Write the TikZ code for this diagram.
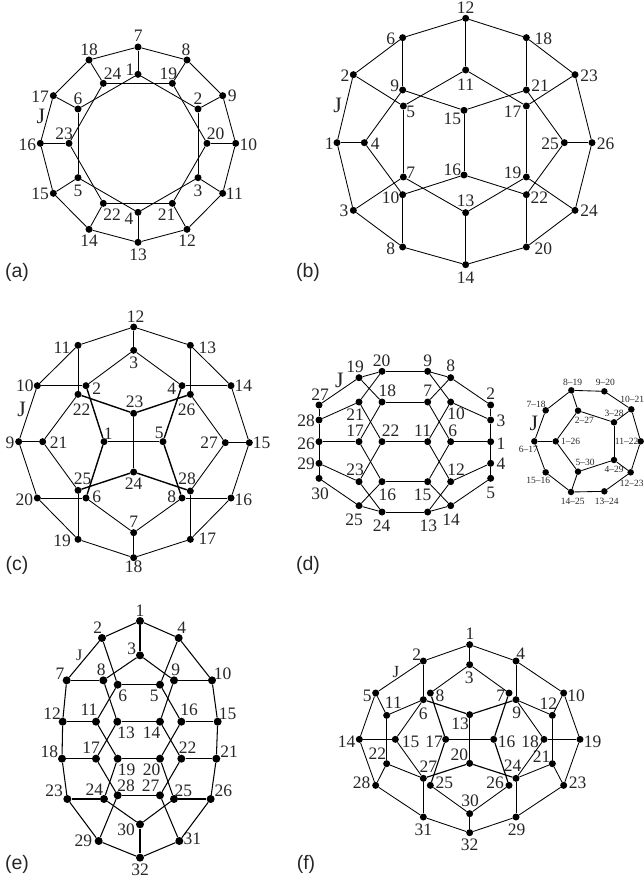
\documentclass[tikz,border=0pt]{standalone}
\usepackage{fontspec}
\setmainfont{Liberation Serif}
\newfontfamily\capfont{Liberation Sans}
\tikzset{
  vdot/.style={circle,fill=black,inner sep=0pt,minimum size=\dsize pt,draw=none},
  vlab/.style={inner sep=0pt,text=black!85,font=\lfont},
  vlink/.style={draw=black,line width=\lw pt},
  vheavy/.style={draw=black,line width=1.4pt},
  figcap/.style={inner sep=0pt,text=black!85,font=\capfont\fontsize{19.5}{20}\selectfont}
}
\def\lw{0.85}
\def\lfont{\fontsize{17.5}{18}\selectfont}
\def\dsize{7}
\newcommand{\pnl}[3]{\def\pn{#1}\def\ox{#2}\def\oy{#3}}
\newcommand{\Vx}[6]{%
  \node[vdot] (\pn#1) at ({\ox+#2/3},{-(\oy+#3/3)}) {};
  \node[vlab] (l\pn#1) at ({\ox+#5/3},{-(\oy+#6/3)}) {#4};}
\newcommand{\Ux}[3]{\Vx{#1}{#2}{#3}{#1}}
\newcommand{\Ex}[1]{\foreach \p/\q in {#1}{\draw[vlink] (\pn\p)--(\pn\q);}}
\newcommand{\Hx}[1]{\foreach \p/\q in {#1}{\draw[vheavy] (\pn\p)--(\pn\q);}}
\newcommand{\Jx}[3]{\node[vlab,font=\fontsize{#3}{#3}\selectfont] (j\pn) at ({\ox+#1/3},{-(\oy+#2/3)}) {J};}
\begin{document}
\begin{tikzpicture}[x=1pt,y=1pt]
\useasboundingbox (0,0) rectangle (643,-882);
% ---------- (a)
\pnl{a}{0}{0}
\Ux{7}{414}{141}{415}{108}
\Ux{1}{414}{223}{390}{210}
\Ux{18}{267}{180}{267}{150}
\Ux{8}{561}{180}{558}{150}
\Ux{24}{310}{250}{338}{222}
\Ux{19}{517}{250}{505}{222}
\Ux{17}{160}{287}{120}{290}
\Ux{9}{668}{287}{697}{287}
\Ux{6}{234}{327}{234}{297}
\Ux{2}{594}{327}{594}{295}
\Ux{16}{121}{430}{82}{433}
\Ux{23}{207}{430}{192}{402}
\Ux{20}{621}{430}{647}{402}
\Ux{10}{707}{430}{745}{433}
\Ux{5}{234}{533}{234}{572}
\Ux{3}{594}{533}{594}{572}
\Ux{15}{160}{580}{120}{582}
\Ux{11}{668}{580}{703}{582}
\Ux{22}{310}{610}{336}{645}
\Ux{21}{517}{610}{500}{645}
\Ux{14}{267}{688}{267}{722}
\Ux{12}{561}{688}{561}{722}
\Ux{4}{414}{637}{387}{655}
\Ux{13}{414}{727}{414}{765}
\Jx{123}{350}{22}
\Ex{7/8,8/9,9/10,10/11,11/12,12/13,13/14,14/15,15/16,16/17,17/18,18/7,
   7/1,8/19,9/2,10/20,11/3,12/21,13/4,14/22,15/5,16/23,17/6,18/24,
   1/2,2/3,3/4,4/5,5/6,6/1,19/20,20/21,21/22,22/23,23/24,24/19}
\node[figcap] (capa) at (17,-272) {(a)};
% ---------- (b)
\pnl{b}{290}{0}
\Ux{12}{527}{55}{527}{22}
\Ux{6}{338}{113}{302}{115}
\Ux{18}{709}{113}{760}{115}
\Ux{2}{190}{224}{165}{228}
\Ux{23}{855}{224}{897}{226}
\Ux{11}{527}{210}{527}{254}
\Ux{9}{338}{270}{314}{258}
\Ux{21}{709}{270}{750}{258}
\Ux{5}{340}{318}{362}{335}
\Ux{17}{709}{318}{668}{335}
\Ux{15}{522}{331}{487}{355}
\Ux{1}{141}{428}{118}{430}
\Ux{4}{223}{428}{256}{430}
\Ux{25}{823}{428}{780}{430}
\Ux{26}{906}{428}{947}{430}
\Ux{16}{522}{525}{487}{508}
\Ux{7}{340}{531}{362}{518}
\Ux{19}{709}{531}{668}{518}
\Ux{10}{338}{584}{302}{592}
\Ux{22}{709}{584}{748}{592}
\Ux{13}{527}{638}{527}{603}
\Ux{3}{190}{631}{162}{632}
\Ux{24}{855}{631}{897}{633}
\Ux{8}{338}{741}{302}{745}
\Ux{20}{709}{741}{760}{745}
\Ux{14}{527}{794}{527}{832}
\Jx{143}{316}{22}
\Ex{12/18,18/23,23/26,26/24,24/20,20/14,14/8,8/3,3/1,1/2,2/6,6/12,
   12/11,6/9,2/5,5/7,10/8,1/4,4/9,4/10,3/7,7/13,10/16,16/15,15/9,15/21,
   11/5,11/17,17/23,17/19,18/21,21/25,25/22,25/26,19/13,19/24,16/22,22/20,13/14}
\node[figcap] (capb) at (308,-272) {(b)};
% ---------- (c)
\pnl{c}{0}{300}
\Ux{12}{401}{81}{407}{50}
\Ux{3}{401}{151}{401}{187}
\Ux{11}{234}{136}{186}{143}
\Ux{13}{571}{136}{622}{143}
\Ux{10}{112}{257}{75}{258}
\Ux{2}{258}{257}{290}{265}
\Ux{4}{546}{257}{515}{265}
\Ux{14}{693}{257}{730}{258}
\Ux{22}{234}{283}{245}{330}
\Ux{26}{571}{283}{560}{330}
\Ux{23}{401}{340}{404}{305}
\Ux{9}{56}{425}{30}{428}
\Ux{21}{128}{425}{176}{428}
\Ux{1}{312}{425}{325}{400}
\Ux{5}{489}{425}{478}{400}
\Ux{27}{676}{428}{627}{428}
\Ux{15}{748}{428}{785}{428}
\Ux{24}{401}{516}{401}{552}
\Ux{25}{234}{571}{248}{537}
\Ux{28}{571}{573}{561}{537}
\Ux{20}{112}{594}{73}{600}
\Ux{6}{258}{594}{290}{590}
\Ux{8}{546}{594}{515}{590}
\Ux{16}{693}{594}{730}{600}
\Ux{7}{401}{698}{401}{665}
\Ux{19}{234}{718}{186}{722}
\Ux{17}{571}{718}{622}{716}
\Ux{18}{401}{773}{401}{800}
\Jx{65}{328}{22}
\Ex{12/13,13/14,14/15,15/16,16/17,17/18,18/19,19/20,20/9,9/10,10/11,11/12,
   12/3,3/2,3/4,10/2,14/4,11/22,13/26,22/21,26/27,21/9,27/15,21/25,27/28,
   1/5,23/24,25/19,28/17,20/6,8/16,6/7,8/7,7/18}
\Hx{22/23,26/23,2/1,4/5,1/6,5/8,24/25,24/28}
\node[figcap] (capc) at (17,-565) {(c)};
% ---------- (d)
\pnl{d}{295}{340}
\Ux{20}{261}{94}{260}{63}
\Ux{9}{398}{94}{398}{63}
\Ux{19}{192}{113}{180}{80}
\Ux{8}{467}{113}{467}{78}
\Ux{27}{72}{195}{75}{163}
\Ux{2}{587}{195}{587}{160}
\Ux{21}{192}{186}{180}{225}
\Ux{10}{467}{186}{483}{222}
\Ux{18}{261}{186}{277}{153}
\Ux{7}{398}{186}{398}{153}
\Ux{28}{72}{240}{33}{243}
\Ux{3}{587}{240}{618}{243}
\Ux{26}{72}{305}{33}{312}
\Ux{17}{192}{305}{180}{272}
\Ux{22}{261}{305}{287}{272}
\Ux{11}{398}{305}{383}{272}
\Ux{6}{467}{305}{473}{272}
\Ux{1}{587}{305}{618}{310}
\Ux{29}{72}{370}{33}{372}
\Ux{4}{587}{370}{618}{372}
\Ux{23}{192}{425}{180}{388}
\Ux{12}{467}{425}{483}{388}
\Ux{16}{261}{425}{277}{463}
\Ux{15}{398}{425}{383}{463}
\Ux{30}{72}{415}{75}{460}
\Ux{5}{587}{415}{587}{458}
\Ux{25}{192}{497}{177}{540}
\Ux{14}{467}{497}{468}{538}
\Ux{24}{261}{516}{260}{556}
\Ux{13}{398}{516}{400}{556}
\Jx{133}{122}{22}
\Ex{20/9,9/8,8/2,2/3,3/1,1/4,4/5,5/14,14/13,13/24,24/25,25/30,30/29,29/26,26/28,28/27,27/19,19/20,
   19/18,20/21,9/10,8/7,18/7,21/28,10/3,21/22,18/17,7/6,10/11,17/26,6/1,17/16,22/23,11/12,6/15,
   29/23,12/4,23/24,16/15,25/16,12/13,15/14}
\Hx{22/11}
\node[figcap] (capd) at (308,-565) {(d)};
% ---------- (d), quotient graph
\def\dsize{6.5}
\def\lfont{\fontsize{9.5}{10}\selectfont}
\pnl{g}{510}{390}
\Vx{a}{73}{154}{6--17}{55}{177}
\Vx{b}{137}{154}{1--26}{182}{155}
\Vx{c}{107}{61}{7--18}{78}{42}
\Vx{d}{107}{247}{15--16}{85}{270}
\Vx{e}{183}{306}{14--25}{188}{333}
\Vx{f}{283}{304}{13--24}{290}{333}
\Vx{g}{362}{247}{12--23}{365}{279}
\Vx{h}{392}{154}{11--22}{350}{155}
\Vx{i}{364}{58}{10--21}{367}{27}
\Vx{j}{184}{1}{8--19}{188}{-22}
\Vx{k}{283}{4}{9--20}{286}{-22}
\Vx{l}{204}{62}{2--27}{223}{90}
\Vx{m}{312}{97}{3--28}{312}{70}
\Vx{n}{312}{210}{4--29}{312}{238}
\Vx{o}{204}{245}{5--30}{225}{218}
\Jx{72}{100}{22}
\Ex{a/c,c/j,j/k,k/i,i/h,h/g,g/f,f/e,e/d,d/a,a/b,j/l,l/b,l/m,m/i,m/n,n/g,n/o,o/e,o/b}
% ---------- (e)
\def\dsize{8}
\def\lw{1.05}
\def\lfont{\fontsize{17.5}{18}\selectfont}
\pnl{e}{30}{590}
\Ux{1}{330}{93}{330}{62}
\Ux{2}{216}{144}{203}{113}
\Ux{4}{446}{144}{455}{113}
\Ux{3}{330}{196}{305}{175}
\Ux{7}{110}{271}{90}{250}
\Ux{8}{220}{271}{214}{240}
\Ux{9}{432}{271}{437}{240}
\Ux{10}{546}{271}{578}{250}
\Ux{6}{263}{284}{278}{318}
\Ux{5}{390}{284}{373}{318}
\Ux{12}{98}{395}{66}{370}
\Ux{11}{198}{395}{177}{360}
\Ux{13}{262}{395}{288}{428}
\Ux{14}{390}{395}{365}{428}
\Ux{16}{454}{395}{477}{360}
\Ux{15}{563}{395}{593}{370}
\Ux{18}{96}{506}{58}{486}
\Ux{17}{198}{506}{183}{472}
\Ux{19}{263}{506}{290}{540}
\Ux{20}{390}{506}{365}{540}
\Ux{22}{454}{506}{473}{472}
\Ux{21}{559}{506}{597}{486}
\Ux{23}{112}{627}{72}{603}
\Ux{24}{222}{627}{193}{598}
\Ux{28}{263}{616}{288}{588}
\Ux{27}{390}{616}{362}{588}
\Ux{25}{432}{627}{460}{603}
\Ux{26}{542}{627}{580}{603}
\Ux{30}{330}{703}{288}{718}
\Ux{29}{206}{753}{160}{752}
\Ux{31}{448}{753}{487}{745}
\Ux{32}{330}{803}{330}{840}
\Jx{148}{195}{16}
\Ex{1/3,2/7,2/6,4/10,4/5,7/8,9/10,7/12,10/15,12/18,15/21,18/23,21/26,23/24,25/26,
   32/30,12/11,16/15,18/17,22/21,8/13,9/14,6/11,5/16,11/19,16/20,13/17,14/22,17/28,22/27,19/24,20/25,
   1/2,1/4,3/8,3/9,23/29,26/31,29/32,31/32,29/28,31/27,24/30,25/30,19/20,13/14}
\Hx{6/5,28/27}
\node[figcap] (cape) at (17,-864) {(e)};
% ---------- (f)
\def\dsize{7}
\def\lw{0.85}
\pnl{f}{320}{600}
\Ux{1}{449}{134}{450}{100}
\Ux{2}{310}{183}{290}{165}
\Ux{4}{588}{183}{602}{160}
\Ux{3}{449}{194}{448}{232}
\Ux{5}{167}{279}{142}{287}
\Ux{10}{731}{279}{768}{287}
\Ux{8}{331}{279}{360}{287}
\Ux{7}{567}{279}{542}{287}
\Ux{6}{310}{299}{310}{340}
\Ux{9}{588}{299}{590}{338}
\Ux{13}{449}{344}{420}{370}
\Ux{11}{200}{346}{220}{307}
\Ux{12}{697}{346}{685}{310}
\Ux{14}{118}{418}{80}{425}
\Ux{15}{226}{418}{272}{425}
\Ux{17}{377}{418}{342}{425}
\Ux{16}{521}{418}{560}{425}
\Ux{18}{672}{418}{630}{425}
\Ux{19}{780}{418}{818}{425}
\Ux{20}{449}{490}{418}{463}
\Ux{22}{200}{491}{172}{460}
\Ux{21}{697}{491}{665}{470}
\Ux{27}{310}{535}{325}{500}
\Ux{24}{588}{535}{578}{497}
\Ux{25}{331}{556}{373}{547}
\Ux{26}{567}{556}{525}{547}
\Ux{28}{167}{556}{125}{547}
\Ux{23}{731}{556}{773}{547}
\Ux{30}{449}{641}{450}{603}
\Ux{31}{310}{651}{310}{688}
\Ux{29}{588}{651}{590}{688}
\Ux{32}{449}{698}{449}{735}
\Jx{228}{217}{17}
\Ex{1/2,1/4,1/3,2/5,2/6,4/10,4/9,3/8,3/7,5/11,5/14,10/12,10/19,6/11,9/12,6/15,9/18,
   13/20,17/16,12/21,14/15,18/19,14/28,19/23,15/27,18/24,22/28,21/23,22/27,21/24,
   27/31,24/29,25/30,26/30,28/31,23/29,31/32,29/32,30/32}
\foreach \p/\q in {6/13,9/13,8/17,7/16,20/27,20/24,17/25,16/26}{\draw[draw=black,line width=1.15pt] (f\p)--(f\q);}
\Hx{11/22}
\node[figcap] (capf) at (306,-864) {(f)};
\end{tikzpicture}
\end{document}
